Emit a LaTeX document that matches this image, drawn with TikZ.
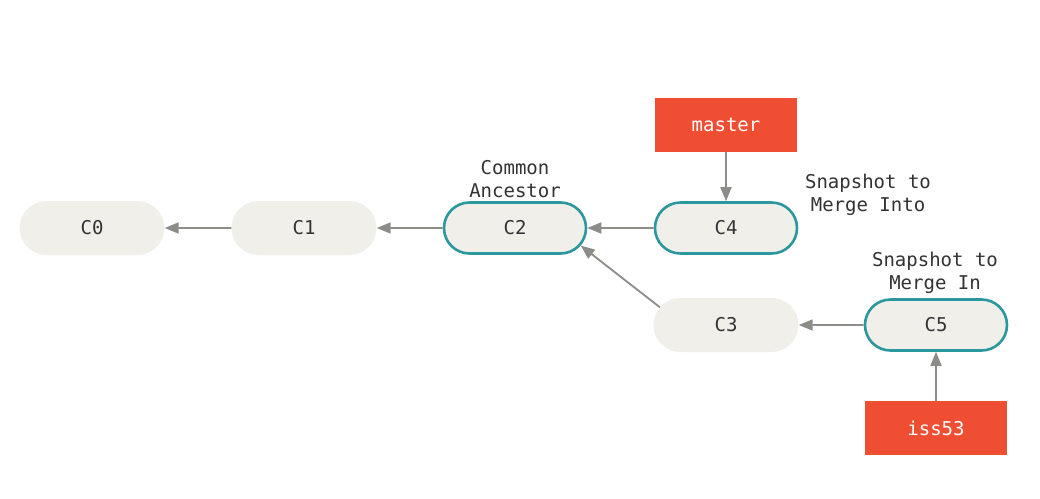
\documentclass[tikz,border=0pt]{standalone}
\usepackage{fontspec}
\setmonofont{DejaVu Sans Mono}
\usetikzlibrary{shapes.misc,arrows.meta}
\definecolor{cfill}{RGB}{240,239,234}
\definecolor{cteal}{RGB}{42,152,158}
\definecolor{cred}{RGB}{240,78,50}
\definecolor{carrow}{RGB}{140,140,136}
\definecolor{ctext}{RGB}{51,51,51}
\tikzset{
  commit/.style={rounded rectangle, fill=cfill, minimum width=145pt, minimum height=54pt, inner sep=0pt, text=ctext, font=\ttfamily\fontsize{19}{23}\selectfont},
  hl/.style={commit, draw=cteal, line width=2.6pt, minimum width=142pt, minimum height=51pt},
  branch/.style={rectangle, fill=cred, minimum width=142pt, minimum height=54pt, inner sep=0pt, text=white, font=\ttfamily\fontsize{19}{23}\selectfont},
  lbl/.style={align=center, text=ctext, font=\ttfamily\fontsize{19}{23}\selectfont, inner sep=0pt},
  arr/.style={draw=carrow, line width=1.8pt, -{Triangle[length=14pt,width=11pt]}}
}
\begin{document}
\begin{tikzpicture}[x=1pt,y=-1pt]
\useasboundingbox[fill=white] (0,0) rectangle (1040,498);
\node[commit] (c0) at (92,228) {C0};
\node[commit] (c1) at (304,228) {C1};
\node[hl] (c2) at (515,228) {C2};
\node[hl] (c4) at (726,228) {C4};
\node[commit] (c3) at (726,325) {C3};
\node[hl] (c5) at (936,325) {C5};
\node[branch] (master) at (726,125) {master};
\node[branch] (iss) at (936,428) {iss53};
\node[lbl] (lca) at (515,179) {Common\\Ancestor};
\node[lbl] (lmi) at (868,195) {Snapshot to\\Merge Into};
\node[lbl] (lmin) at (935,273) {Snapshot to\\Merge In};
\draw[arr] (c1) -- (c0);
\draw[arr] (c2) -- (c1);
\draw[arr] (c4) -- (c2);
\draw[arr] (c3.165) -- (c2.-15);
\draw[arr] (c5) -- (c3);
\draw[arr] (master) -- (c4);
\draw[arr] (iss) -- (c5);
\end{tikzpicture}
\end{document}
